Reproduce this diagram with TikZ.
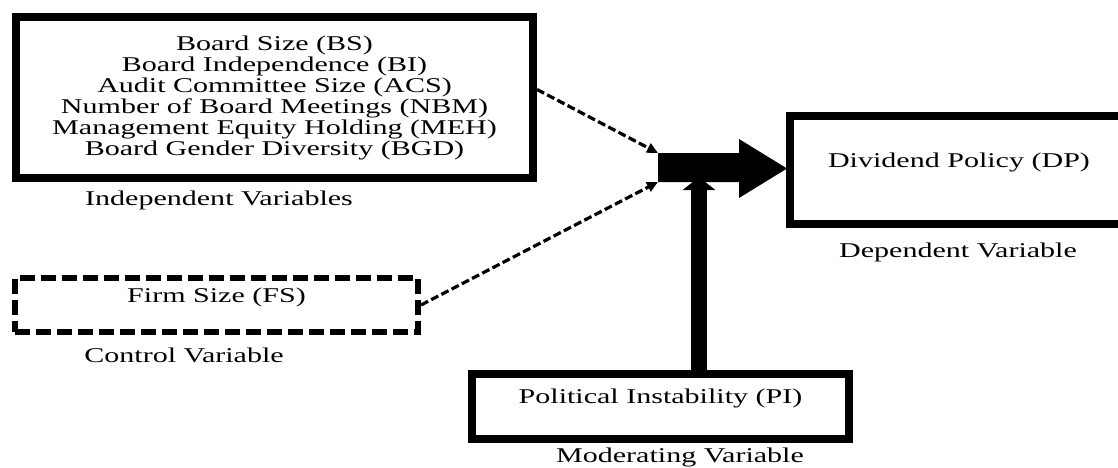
\documentclass[tikz,border=0pt]{standalone}
\usepackage{fontspec}
\setmainfont{Liberation Serif}[FakeStretch=1.43]
\usetikzlibrary{arrows.meta}

\tikzset{
  varbox/.style={draw, line width=8pt, inner sep=0pt},
  ctrlbox/.style={draw, line width=6pt, dash pattern=on 15pt off 6pt, inner sep=0pt},
  boxtext/.style={anchor=base},
  caption/.style={anchor=base},
  link/.style={line width=3.2pt, dash pattern=on 8pt off 3.5pt,
    -{Triangle[length=11pt,width=10pt]}},
  moderate/.style={line width=16pt, -{Triangle[length=13pt,width=32pt]}},
}

\begin{document}
\begin{tikzpicture}[x=1pt, y=-1pt, font=\fontsize{21}{21}\selectfont]
  \clip (0,0) rectangle (1118,468);

  % Independent variables
  \node[varbox, minimum width=517pt, minimum height=161pt, align=center] (iv) at (274.5,97.5)
    {Board Size (BS)\\ Board Independence (BI)\\ Audit Committee Size (ACS)\\
     Number of Board Meetings (NBM)\\ Management Equity Holding (MEH)\\
     Board Gender Diversity (BGD)};
  \node[caption] (ivcap) at (219,205) {Independent Variables};

  % Control variable
  \node[ctrlbox, minimum width=403pt, minimum height=54pt] (fs) at (216.5,305) {};
  \node[boxtext] (fstext) at ([yshift=3pt]fs.center) {Firm Size (FS)};
  \node[caption] (fscap) at (184,362) {Control Variable};

  % Dependent variable
  \node[varbox, minimum width=338pt, minimum height=108pt] (dp) at (959,170) {};
  \node[boxtext] (dptext) at ([yshift=3pt]dp.center) {Dividend Policy (DP)};
  \node[caption] (dpcap) at (958,257) {Dependent Variable};

  % Moderating variable
  \node[varbox, minimum width=377pt, minimum height=65pt] (pi) at (660.5,406.5) {};
  \node[boxtext] (pitext) at ([yshift=3pt]pi.center) {Political Instability (PI)};
  \node[caption] (picap) at (680,462) {Moderating Variable};

  % Block arrow into DP
  \coordinate (hubtop) at (658,153);
  \coordinate (hubbot) at (658,182);
  \coordinate (hubin) at (699,177);
  \fill (hubtop) -- (739,153) -- (739,139) -- (787,168.5) -- (739,198)
    -- (739,182) -- (hubbot) -- cycle;

  % Links
  \draw[link] ([yshift=8pt]iv.east) -- (hubtop);
  \draw[link] (fs.east) -- (hubbot);
  \draw[moderate] (pi.north -| hubin) -- (hubin);
\end{tikzpicture}
\end{document}
